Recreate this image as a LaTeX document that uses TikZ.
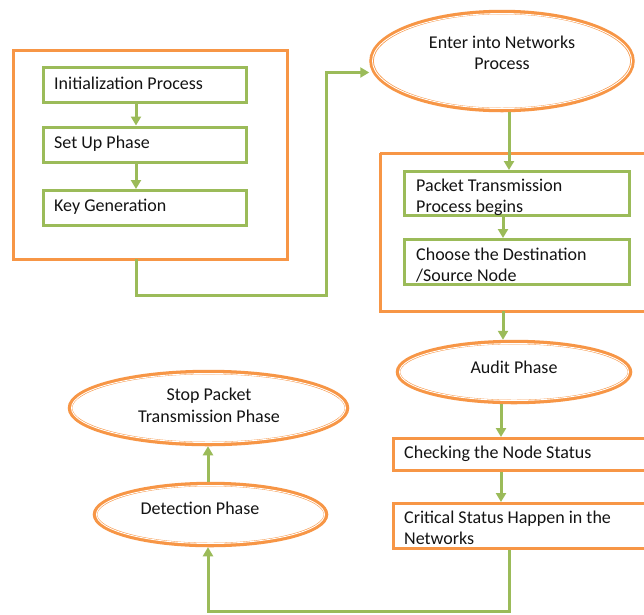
\documentclass[tikz,border=0pt]{standalone}
\usepackage{fontspec}
\setmainfont{Carlito}
\usetikzlibrary{arrows.meta,shapes.geometric,positioning}
\definecolor{frameorange}{HTML}{F79646}
\definecolor{flowgreen}{HTML}{9BBB59}
\definecolor{ink}{HTML}{141414}
\tikzset{
  phasebox/.style={draw=frameorange, line width=3pt, fill=none},
  stepbox/.style={rectangle, draw=flowgreen, line width=3pt, inner sep=0pt},
  statusbox/.style={rectangle, draw=frameorange, line width=3pt, inner sep=0pt},
  oval/.style={ellipse, draw=frameorange, line width=4.5pt, fill=white, inner sep=0pt},
  ovalring/.style={draw=white, line width=0.9pt},
  txt/.style={font=\fontsize{18}{21.5}\selectfont, text=ink, inner sep=0pt},
  flow/.style={draw=flowgreen, line width=3pt, -{Triangle[width=10pt,length=9pt]}},
  link/.style={draw=flowgreen, line width=3pt},
}
\begin{document}
\begin{tikzpicture}[x=1pt, y=-1pt]
\useasboundingbox[fill=white] (0,0) rectangle (644,614);

% left group: setup steps
\draw[phasebox] (13,50) rectangle (287,259);
\node[stepbox, minimum width=203pt, minimum height=35pt] (init) at (145,85) {};
\node[stepbox, minimum width=203pt, minimum height=35pt] (setup) at (145,144.5) {};
\node[stepbox, minimum width=203pt, minimum height=35pt] (keygen) at (145,208) {};
\node[txt, anchor=west] (tinit) at (54,83.5) {Initialization Process};
\node[txt, anchor=west] (tsetup) at (54,143.5) {Set Up Phase};
\node[txt, anchor=west] (tkeygen) at (54,207) {Key Generation};
\coordinate (g1bottom) at (136,259);
\draw[flow] (init.south -| 136,0) -- (setup.north -| 136,0);
\draw[flow] (setup.south -| 136,0) -- (keygen.north -| 136,0);

% entering the network
\node[oval, minimum width=261pt, minimum height=98pt] (enter) at (502,61) {};
\draw[ovalring] (enter.center) ellipse (129.5 and 47.5);
\node[txt, align=center] (tenter) at (502,53) {Enter into Networks\\Process};
\draw[flow] (g1bottom) -- (136,295) -- (326,295) -- (326,72.5) -- (enter.west |- 0,72.5);

% right group: packet transmission
\draw[phasebox] (380,153) -- (650,153) (380,153) -- (380,311) -- (650,311);
\node[stepbox, minimum width=225pt, minimum height=44pt] (packet) at (516.5,193.5) {};
\node[stepbox, minimum width=225pt, minimum height=45pt] (choose) at (516.5,262) {};
\node[txt, anchor=north west, align=left] (tpacket) at (416,178.5) {Packet Transmission\\Process begins};
\node[txt, anchor=north west, align=left] (tchoose) at (416,247.5) {Choose the Destination\\/Source Node};
\draw[flow] (enter.south -| 509,0) -- (packet.north -| 509,0);
\draw[flow] (packet.south -| 503,0) -- (choose.north -| 503,0);
\coordinate (g2bottom) at (503,311);

% audit
\node[oval, minimum width=232pt, minimum height=60pt] (audit) at (514,372) {};
\draw[ovalring] (audit.center) ellipse (114.5 and 28.5);
\node[txt] (taudit) at (514,367) {Audit Phase};
\draw[flow] (g2bottom) -- (audit.north -| 503,0);

% node status checks
\node[statusbox, anchor=north west, minimum width=270pt, minimum height=32pt] (check) at (392,437) {};
\node[statusbox, anchor=north west, minimum width=270pt, minimum height=45pt] (crit) at (392,502) {};
\node[txt, anchor=west] (tcheck) at (404,454) {Checking the Node Status};
\node[txt, anchor=north west, align=left] (tcrit) at (404,510.5) {Critical Status Happen in the\\Networks};
\draw[flow] (audit.south -| 501,0) -- (check.north -| 501,0);
\draw[flow] (check.south -| 501,0) -- (crit.north -| 501,0);

% detection and stop
\node[oval, minimum width=231pt, minimum height=61pt] (detect) at (210.5,514.5) {};
\draw[ovalring] (detect.center) ellipse (114 and 29);
\node[txt] (tdetect) at (200,508.5) {Detection Phase};
\node[oval, minimum width=277pt, minimum height=72pt] (stop) at (208.5,408) {};
\draw[ovalring] (stop.center) ellipse (137 and 34.5);
\node[txt, align=center] (tstop) at (209,405.5) {Stop Packet\\Transmission Phase};
\draw[flow] (crit.south -| 509,0) -- (509,611) -- (208,611) -- (detect.south -| 208,0);
\draw[flow] (detect.north -| 208,0) -- (stop.south -| 208,0);
\end{tikzpicture}
\end{document}
